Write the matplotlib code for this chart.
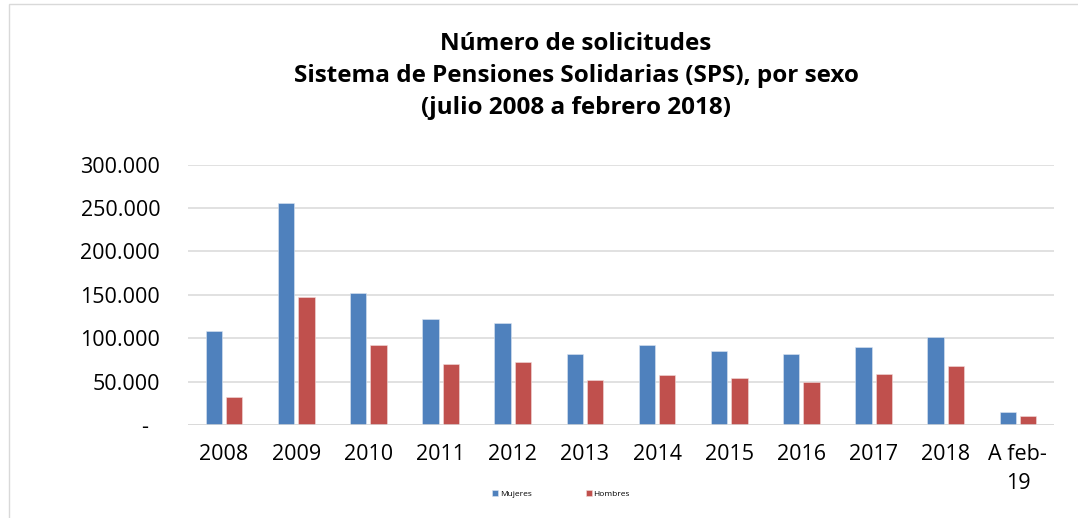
import numpy as np
import matplotlib.pyplot as plt
from matplotlib.patches import Rectangle

# datos
anios = ["2008", "2009", "2010", "2011", "2012", "2013", "2014",
         "2015", "2016", "2017", "2018", "A feb-\n19"]
mujeres = [108700, 255400, 152500, 122500, 117500, 81400, 92600,
           85700, 81800, 90300, 101800, 15000]
hombres = [31900, 147500, 92600, 70700, 72600, 51500, 58000,
           53800, 49900, 59200, 68000, 10000]
yticks = [0, 50000, 100000, 150000, 200000, 250000, 300000]

plt.rcParams['font.family'] = ['Open Sans', 'DejaVu Sans']

fig = plt.figure(figsize=(10.78, 5.18), dpi=100)
ax = fig.add_axes([188 / 1078, 1 - 425 / 518, (1054 - 188) / 1078, (425 - 164.7) / 518])

x = np.arange(len(anios))
ancho = 0.226
ax.bar(x - 0.14, mujeres, ancho, color='#4F81BD', edgecolor='#dce6f2', linewidth=0.4,
       label='Mujeres', zorder=3)
ax.bar(x + 0.14, hombres, ancho, color='#C0504D', edgecolor='#f2dcdb', linewidth=0.4,
       label='Hombres', zorder=3)

ax.set_xlim(-0.5, len(anios) - 0.5)
ax.set_ylim(0, 300000)
ax.set_yticks(yticks)
ax.set_yticklabels(["-  " if v == 0 else f"{v:,}".replace(",", ".") for v in yticks])
ax.set_xticks(x)
ax.set_xticklabels(anios, linespacing=1.5)

ax.tick_params(axis='both', length=0, labelsize=15.5, colors='black')
ax.tick_params(axis='y', pad=20)
ax.tick_params(axis='x', pad=14)
ax.grid(axis='y', color='#d9d9d9', linewidth=1.1, zorder=0)
for s in ax.spines.values():
    s.set_visible(False)
ax.axhline(0, color='#d9d9d9', linewidth=1.1, zorder=4)

fig.text(576 / 1078, 1 - 76 / 518,
         "Número de solicitudes\nSistema de Pensiones Solidarias (SPS), por sexo\n(julio 2008 a febrero 2018)",
         ha='center', va='center', fontsize=17.5, fontweight='bold', linespacing=1.47)

fig.legend(loc='center', bbox_to_anchor=(561 / 1078, 1 - 494 / 518), ncol=2, frameon=False,
           fontsize=6, handlelength=0.7, handleheight=0.7, handletextpad=0.2,
           columnspacing=6.5)

# borde del area del grafico (recortado a la derecha y abajo)
fig.patches.append(Rectangle((9 / 1078, -0.1), 1.2, 1 - 4 / 518 + 0.1,
                             transform=fig.transFigure, fill=False,
                             edgecolor='#d9d9d9', linewidth=1.0))

fig.savefig("out.png", dpi=100)
